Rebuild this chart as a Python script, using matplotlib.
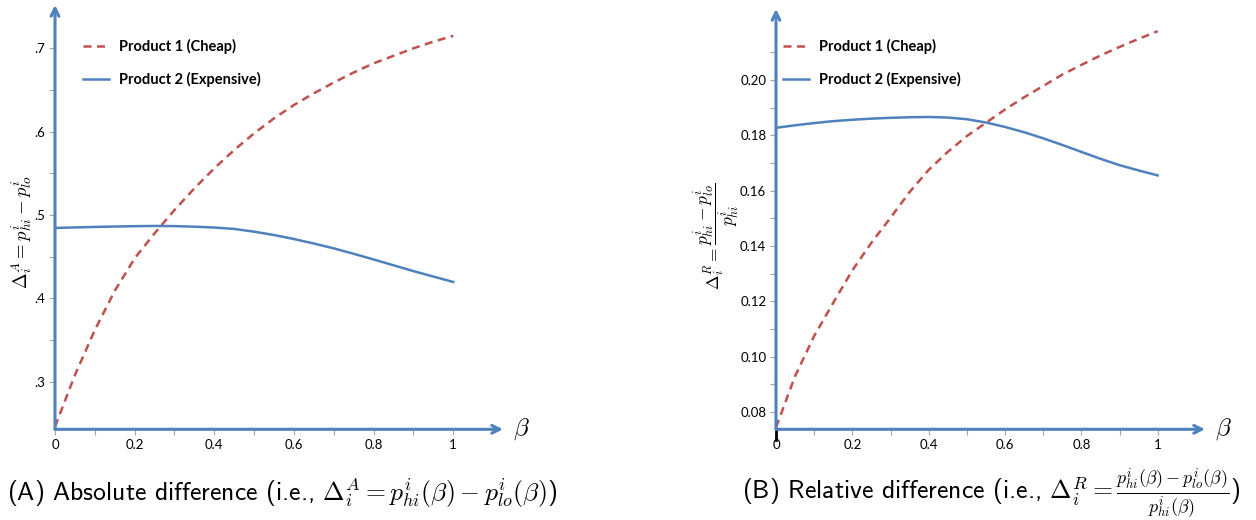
import matplotlib
matplotlib.use("Agg")
import matplotlib.pyplot as plt
import matplotlib.transforms as mtransforms
from matplotlib.ticker import FixedLocator

# values
beta = [0.00, 0.05, 0.10, 0.15, 0.20, 0.25, 0.30, 0.35, 0.40, 0.45, 0.50,
        0.55, 0.60, 0.65, 0.70, 0.75, 0.80, 0.85, 0.90, 0.95, 1.00]

abs_cheap = [0.246, 0.308, 0.362, 0.409, 0.448, 0.478, 0.506, 0.532, 0.556, 0.578, 0.598,
             0.616, 0.632, 0.646, 0.659, 0.671, 0.682, 0.691, 0.700, 0.708, 0.715]
abs_expensive = [0.4845, 0.4851, 0.4857, 0.4862, 0.4866, 0.4869, 0.4867, 0.4860, 0.4850, 0.4833, 0.4800,
                 0.4760, 0.4712, 0.4658, 0.4600, 0.4535, 0.4467, 0.4397, 0.4327, 0.4262, 0.4197]

rel_cheap = [0.0745, 0.0930, 0.1075, 0.1195, 0.1312, 0.1412, 0.1502, 0.1595, 0.1675, 0.1740, 0.1797,
             0.1845, 0.1893, 0.1937, 0.1978, 0.2019, 0.2054, 0.2088, 0.2119, 0.2148, 0.2176]
rel_expensive = [0.1827, 0.1836, 0.1844, 0.1851, 0.1856, 0.1860, 0.1863, 0.1865, 0.1866, 0.1864, 0.1858,
                 0.1846, 0.1830, 0.1811, 0.1789, 0.1765, 0.1740, 0.1715, 0.1692, 0.1673, 0.1655]

series_labels = ["Product 1 (Cheap)", "Product 2 (Expensive)"]

beta_ticks = [0, 0.2, 0.4, 0.6, 0.8, 1.0]
beta_tick_labels = ["0", "0.2", "0.4", "0.6", "0.8", "1"]
beta_minor = [0.1, 0.3, 0.5, 0.7, 0.9]

abs_ticks = [0.3, 0.4, 0.5, 0.6, 0.7]
abs_tick_labels = [".3", ".4", ".5", ".6", ".7"]
abs_minor = [0.35, 0.45, 0.55, 0.65]

rel_ticks = [0.08, 0.10, 0.12, 0.14, 0.16, 0.18, 0.20]
rel_tick_labels = ["0.08", "0.10", "0.12", "0.14", "0.16", "0.18", "0.20"]
rel_minor = [0.09, 0.11, 0.13, 0.15, 0.17, 0.19, 0.21]

RED = "#C0504D"
BLUE = "#4F81BD"
TICK_GRAY = "#A6A6A6"
W, H = 1256, 520

plt.rcParams["mathtext.fontset"] = "cm"
plt.rcParams["font.family"] = ["Lato", "DejaVu Sans"]

fig = plt.figure(figsize=(W / 100, H / 100), dpi=100)


def px_rect(x0, x1, y_top, y_bottom):
    return [x0 / W, 1 - y_bottom / H, (x1 - x0) / W, (y_bottom - y_top) / H]


def draw_panel(rect, ylim, xmax, cheap, expensive, yticks, ylabels, yminor, legend_x):
    ax = fig.add_axes(rect)
    ax.plot(beta, cheap, color=RED, lw=1.8, dashes=(3.2, 2.2), label=series_labels[0])
    ax.plot(beta, expensive, color=BLUE, lw=1.8, label=series_labels[1])
    ax.set_xlim(0, xmax)
    ax.set_ylim(*ylim)
    for s in ax.spines.values():
        s.set_visible(False)

    arrow = dict(arrowstyle="->", color=BLUE, lw=2.2, mutation_scale=14,
                 shrinkA=0, shrinkB=0)
    ax.annotate("", xy=(1, 0), xytext=(0, 0), xycoords="axes fraction", arrowprops=arrow)
    ax.annotate("", xy=(0, 1), xytext=(0, 0), xycoords="axes fraction", arrowprops=arrow)

    ax.set_xticks(beta_ticks)
    ax.set_xticklabels(beta_tick_labels)
    ax.xaxis.set_minor_locator(FixedLocator(beta_minor))
    ax.set_yticks(yticks)
    ax.set_yticklabels(ylabels)
    ax.yaxis.set_minor_locator(FixedLocator(yminor))
    ax.tick_params(which="both", colors=TICK_GRAY, length=4, width=0.8,
                   labelcolor="black", labelsize=9.5, pad=3)

    trans = mtransforms.blended_transform_factory(ax.transData, ax.transAxes)
    ax.text(1.172, 0.0, r"$\beta$", transform=trans, fontsize=18,
            ha="center", va="center")

    ax.legend(loc="upper left", bbox_to_anchor=(legend_x / W, 1 - 39 / H),
              bbox_transform=fig.transFigure, frameon=False, borderpad=0,
              borderaxespad=0, handlelength=1.75, handletextpad=0.7,
              labelspacing=1.2, prop={"family": "Lato", "weight": "bold", "size": 10.5})
    return ax


ax1 = draw_panel(px_rect(55, 503, 5, 429.3), (0.2429, 0.752), 1.125,
                 abs_cheap, abs_expensive, abs_ticks, abs_tick_labels, abs_minor, 83)
ax2 = draw_panel(px_rect(776, 1205, 9, 429.3), (0.0738, 0.2256), 1.124,
                 rel_cheap, rel_expensive, rel_ticks, rel_tick_labels, rel_minor, 783)
ax2.plot([0, 0], [0, -0.025], transform=ax2.transAxes, clip_on=False,
         color="black", lw=2)

fig.text(22 / W, 1 - 232 / H, r"$\Delta_i^A = p_{hi}^i - p_{lo}^i$",
         rotation=90, ha="center", va="center", fontsize=13.5)
fig.text(716 / W, 1 - 236 / H, r"$\Delta_i^R = \dfrac{p_{hi}^i - p_{lo}^i}{p_{hi}^i}$",
         rotation=90, ha="center", va="center", fontsize=12.5)

fig.text(7 / W, 1 - 493 / H,
         r"(A) Absolute difference (i.e., $\Delta_i^A = p_{hi}^i(\beta) - p_{lo}^i(\beta)$)",
         ha="left", va="center", fontsize=18.5, family="cmss10")
fig.text(742 / W, 1 - 493 / H,
         r"(B) Relative difference (i.e., $\Delta_i^R = \frac{p_{hi}^i(\beta) - p_{lo}^i(\beta)}{p_{hi}^i(\beta)}$)",
         ha="left", va="center", fontsize=18.5, family="cmss10")

fig.savefig("out.png", dpi=100)
